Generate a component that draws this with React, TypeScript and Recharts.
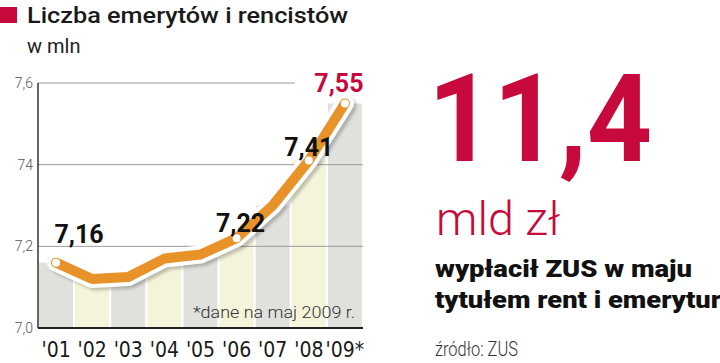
import { ComposedChart, Bar, Line, XAxis, YAxis, ReferenceLine, Cell, LabelList } from "recharts"

const years = ["'01", "'02", "'03", "'04", "'05", "'06", "'07", "'08", "'09*"]
const pensioners = [7.16, 7.12, 7.125, 7.17, 7.18, 7.22, 7.3, 7.41, 7.55]
const labelledYears = ["'01", "'06", "'08", "'09*"]
const yTicks = [7.0, 7.2, 7.4, 7.6]
const yTickLabels = ["7,0", "7,2", "74", "7,6"]
const gridValues = [7.2, 7.4]

const data = years.map((year, i) => ({ year, value: pensioners[i] }))

const RED = "#c8093c"
const ORANGE = "#e8922a"
const GRAY_COL = "#e0e0dc"
const YELLOW_COL = "#f4f4da"
const NARROW = "'Liberation Sans Narrow', 'DejaVu Sans Condensed', Roboto, sans-serif"

// przesunięcia etykiet względem punktu (środek tekstu, linia bazowa)
const labelShift: Record<string, [number, number]> = {
  "'01": [23, -20],
  "'06": [4, -6],
  "'08": [0, -5],
  "'09*": [-6, -11],
}

const fmt = (v: number) => v.toFixed(2).replace(".", ",")

function PointLabel(props: any) {
  const { x, y, index } = props
  const year = data[index].year
  if (!labelledYears.includes(year)) return null
  const [dx, dy] = labelShift[year]
  const last = index === data.length - 1
  return (
    <text
      x={x + dx}
      y={y + dy}
      textAnchor="middle"
      fontFamily="Roboto, sans-serif"
      fontWeight={700}
      fontSize={25}
      fill={last ? RED : "#111"}
    >
      {fmt(data[index].value)}
    </text>
  )
}

function Dot(props: any) {
  const { cx, cy, index } = props
  if (!labelledYears.includes(data[index].year)) return <g key={index} />
  return <circle key={index} cx={cx} cy={cy} r={4} fill="#fff" />
}

function YearTick(props: any) {
  const { x, y, payload } = props
  return (
    <text x={x} y={y + 29} textAnchor="middle" fontFamily={NARROW} fontSize={21} fill="#1a1a1a">
      {payload.value}
    </text>
  )
}

export default function App() {
  return (
    <div style={{ position: "absolute", left: 0, top: 0, width: 720, height: 363, background: "#fff" }}>
      <style>{`.line-shadow path{transform:translate(3px,3px);filter:blur(1.5px)}`}</style>
      <ComposedChart width={380} height={363} data={data} margin={{ top: 83, right: 17, left: 0, bottom: 0 }} barCategoryGap={1}>
        <XAxis
          dataKey="year"
          height={35}
          tickLine={false}
          tickSize={0}
          tickMargin={0}
          axisLine={{ stroke: "#222", strokeWidth: 2 }}
          tick={<YearTick />}
          interval={0}
        />
        <YAxis
          width={38}
          domain={[7, 7.6]}
          ticks={yTicks}
          tickFormatter={(v: number) => yTickLabels[yTicks.indexOf(v)]}
          tickLine={false}
          tickSize={0}
          tickMargin={5}
          axisLine={{ stroke: "#333", strokeWidth: 1.5 }}
          tick={{ fill: "#555", fontSize: 14, fontFamily: "Roboto, sans-serif", fontWeight: 300 }}
        />
        <Bar dataKey="value" isAnimationActive={false}>
          {data.map((d, i) => (
            <Cell key={d.year} fill={i % 2 === 0 ? GRAY_COL : YELLOW_COL} />
          ))}
        </Bar>
        {gridValues.map((g) => (
          <ReferenceLine key={g} y={g} stroke="#9a9a9a" strokeWidth={1} />
        ))}
        <ReferenceLine
          y={7.6}
          stroke="#9a9a9a"
          shape={(p: any) => (
            <line x1={p.x1} y1={p.y1} x2={p.x1 + (p.x2 - p.x1) * 0.79} y2={p.y2} stroke="#9a9a9a" strokeWidth={1} />
          )}
        />
        <Line
          className="line-shadow"
          dataKey="value"
          stroke="rgba(0,0,0,0.22)"
          strokeWidth={17}
          strokeLinejoin="round"
          strokeLinecap="round"
          dot={false}
          activeDot={false}
          isAnimationActive={false}
        />
        <Line
          dataKey="value"
          stroke="#fff"
          strokeWidth={18}
          strokeLinejoin="round"
          strokeLinecap="round"
          dot={false}
          activeDot={false}
          isAnimationActive={false}
        />
        <Line
          dataKey="value"
          stroke={ORANGE}
          strokeWidth={10}
          strokeLinejoin="round"
          strokeLinecap="round"
          dot={<Dot />}
          activeDot={false}
          isAnimationActive={false}
        >
          <LabelList dataKey="value" content={<PointLabel />} />
        </Line>
      </ComposedChart>
      <svg width={720} height={363} style={{ position: "absolute", left: 0, top: 0, pointerEvents: "none" }}>
        <rect x={0} y={7} width={17} height={16} fill={RED} />
        <text x={27} y={23} fontFamily="Roboto, sans-serif" fontWeight={500} fontSize={22.5} fill="#1a1a1a" textLength={321} lengthAdjust="spacingAndGlyphs">
          Liczba emerytów i rencistów
        </text>
        <text x={27} y={53} fontFamily="Roboto, sans-serif" fontSize={20} fill="#222">
          w mln
        </text>
        <text x={193} y={318} fontFamily="Roboto, sans-serif" fontWeight={300} fontSize={17} fill="#333" textLength={162} lengthAdjust="spacingAndGlyphs">
          *dane na maj 2009 r.
        </text>
        <text x={428} y={161} fontFamily="Roboto, sans-serif" fontWeight={700} fontSize={122} fill={RED} textLength={224} lengthAdjust="spacingAndGlyphs">
          11,4
        </text>
        <text x={436} y={235} fontFamily="Roboto, sans-serif" fontWeight={300} fontSize={46} fill={RED} textLength={124} lengthAdjust="spacingAndGlyphs">
          mld zł
        </text>
        <text x={435} y={277} fontFamily="Roboto, sans-serif" fontWeight={900} fontSize={24} fill="#111" textLength={257} lengthAdjust="spacingAndGlyphs">
          wypłacił ZUS w maju
        </text>
        <text x={435} y={308} fontFamily="Roboto, sans-serif" fontWeight={900} fontSize={24} fill="#111" textLength={286} lengthAdjust="spacingAndGlyphs">
          tytułem rent i emerytur
        </text>
        <text x={435} y={356} fontFamily="Roboto, sans-serif" fontWeight={300} fontSize={21} fill="#333" textLength={83} lengthAdjust="spacingAndGlyphs">
          źródło: ZUS
        </text>
      </svg>
    </div>
  )
}
